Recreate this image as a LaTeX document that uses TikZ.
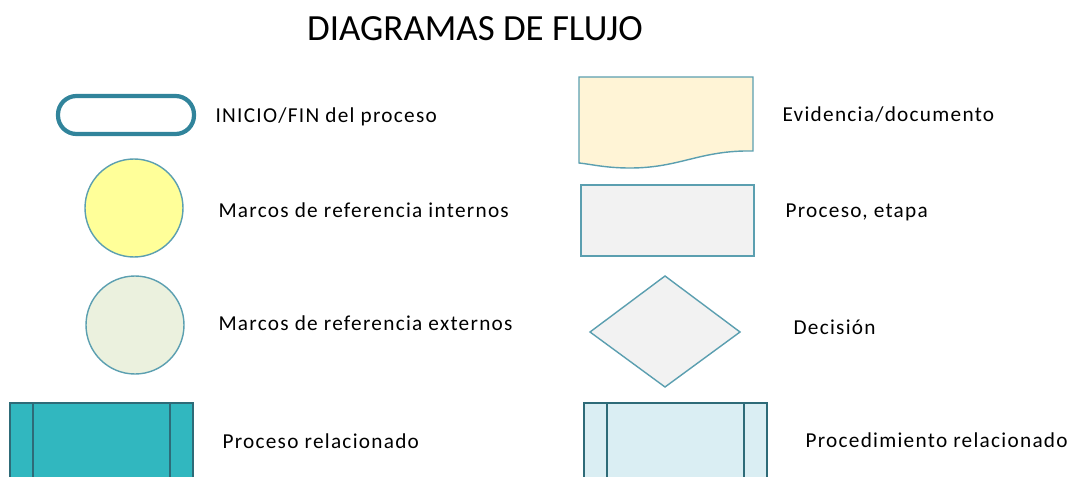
\documentclass[tikz,border=0pt]{standalone}
\usepackage{fontspec}
\setmainfont{Carlito}
\definecolor{tealline}{HTML}{31849B}
\definecolor{thinline}{HTML}{5B9FB0}
\definecolor{darkline}{HTML}{2E6B78}
\definecolor{yellowfill}{HTML}{FFFF99}
\definecolor{greenfill}{HTML}{EBF1DE}
\definecolor{tealfill}{HTML}{31B7BF}
\definecolor{docfill}{HTML}{FFF4D6}
\definecolor{greyfill}{HTML}{F2F2F2}
\definecolor{bluefill}{HTML}{DAEEF3}
\begin{document}
\begin{tikzpicture}[x=0.02cm,y=-0.02cm,line width=0.6pt,
	font=\fontsize{12.1}{13}\selectfont\addfontfeature{LetterSpace=6},
	lbl/.style={anchor=west,inner sep=0pt},
	shp/.style={draw=thinline,line width=0.8pt}]
	\useasboundingbox (0,0) rectangle (1070,476);
	\clip (0,0) rectangle (1070,476);
	% titulo
	\node[inner sep=0pt,font=\fontsize{21}{25}\selectfont] (titulo) at (475,29) {DIAGRAMAS DE FLUJO};
	% columna izquierda
	\draw[tealline,line width=2.4pt,fill=white,rounded corners=0.37cm] (58,96) rectangle (194,134);
	\draw[shp,fill=yellowfill] (134,208) circle(49);
	\draw[shp,fill=greenfill] (135,325) circle(49);
	\draw[darkline,line width=0.9pt,fill=tealfill] (10,403) rectangle (193,500);
	\draw[darkline,line width=0.9pt] (33,403)--(33,500) (170,403)--(170,500);
	\node[lbl] (inicio) at (215,117) {INICIO/FIN del proceso};
	\node[lbl] (internos) at (218,210) {Marcos de referencia internos};
	\node[lbl] (externos) at (218,323) {Marcos de referencia externos};
	\node[lbl] (relac) at (222,441) {Proceso relacionado};
	% columna derecha
	\draw[shp,fill=docfill] (579,163)--(579,77)--(753,77)--(753,151)
		.. controls (700,150) and (680,168) .. (630,168)
		.. controls (605,168) and (590,164) .. (579,163)--cycle;
	\draw[shp,fill=greyfill] (581,185) rectangle (754,256);
	\draw[shp,fill=greyfill] (590,332)--(665,276)--(740,332)--(665,387)--cycle;
	\draw[darkline,line width=0.9pt,fill=bluefill] (584,403) rectangle (767,500);
	\draw[darkline,line width=0.9pt] (607,403)--(607,500) (744,403)--(744,500);
	\node[lbl] (evidencia) at (782,115) {Evidencia/documento};
	\node[lbl] (etapa) at (785,212) {Proceso, etapa};
	\node[lbl] (decision) at (793,327) {Decisión};
	\node[lbl] (procedim) at (805,440) {Procedimiento relacionado};
\end{tikzpicture}
\end{document}
